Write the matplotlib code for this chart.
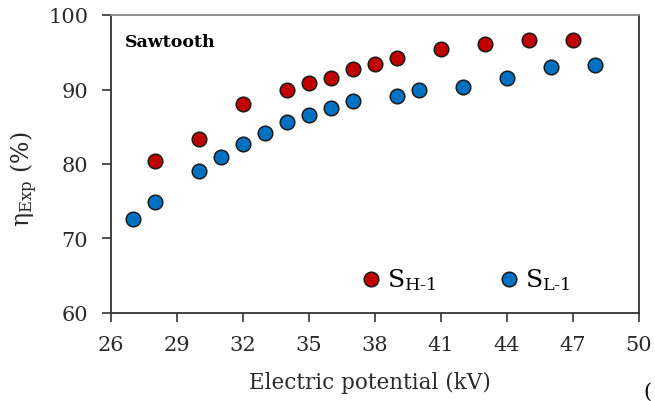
import matplotlib.pyplot as plt

# Electric potential (kV) and experimental efficiency (%)
kv_h = [28, 30, 32, 34, 35, 36, 37, 38, 39, 41, 43, 45, 47]
eta_h = [80.4, 83.4, 88.1, 90.0, 90.9, 91.6, 92.7, 93.4, 94.2, 95.4, 96.1, 96.6, 96.7]

kv_l = [27, 28, 30, 31, 32, 33, 34, 35, 36, 37, 39, 40, 42, 44, 46, 48]
eta_l = [72.6, 74.9, 79.1, 80.9, 82.7, 84.2, 85.7, 86.6, 87.5, 88.4, 89.1, 90.0, 90.4, 91.5, 93.0, 93.3]

xticks = [26, 29, 32, 35, 38, 41, 44, 47, 50]
yticks = [60, 70, 80, 90, 100]

plt.rcParams['font.family'] = ['DejaVu Serif']
plt.rcParams['mathtext.fontset'] = 'dejavuserif'

fig = plt.figure(figsize=(6.55, 4.02), dpi=100)
ax = fig.add_axes([111 / 655, 1 - 314 / 402, 528 / 655, 298 / 402])

ax.scatter(kv_h, eta_h, s=110, color='#C00000', edgecolor='#1a1a1a', linewidth=1.1,
           zorder=3, label=r'S$_\mathrm{H\text{-}1}$')
ax.scatter(kv_l, eta_l, s=110, color='#0070C0', edgecolor='#1a1a1a', linewidth=1.1,
           zorder=3, label=r'S$_\mathrm{L\text{-}1}$')

ax.set_xlim(26, 50)
ax.set_ylim(60, 100)
ax.set_xticks(xticks)
ax.set_yticks(yticks)
ax.tick_params(direction='out', length=6.5, width=1.2, labelsize=15, colors='#333333',
               labelcolor='#2a2a2a')
ax.tick_params(axis='x', pad=9)
ax.tick_params(axis='y', pad=10)
for side in ['left', 'bottom', 'right']:
    ax.spines[side].set_color('#333333')
    ax.spines[side].set_linewidth(1.3)
ax.spines['top'].set_color('#888888')
ax.spines['top'].set_linewidth(1.3)

ax.set_xlabel('Electric potential (kV)', fontsize=15.5, color='#2a2a2a')
ax.xaxis.set_label_coords(0.49, -0.193)
ax.set_ylabel(r'$\mathrm{\eta_{Exp}}$ (%)', fontsize=17, color='#2a2a2a')
ax.yaxis.set_label_coords(-0.1345, 0.453)

ax.text(0.027, 0.91, 'Sawtooth', transform=ax.transAxes, fontsize=12.5,
        fontweight='bold', va='center', ha='left')

ax.legend(loc='center left', bbox_to_anchor=(0.469, 0.115), ncol=2, frameon=False,
          fontsize=18, borderpad=0, borderaxespad=0, handlelength=1.0,
          handletextpad=0.15, columnspacing=2.4)

fig.text(0.982, 0.0, '(', fontsize=15, ha='left', va='bottom')

fig.savefig('out.png', dpi=100)
